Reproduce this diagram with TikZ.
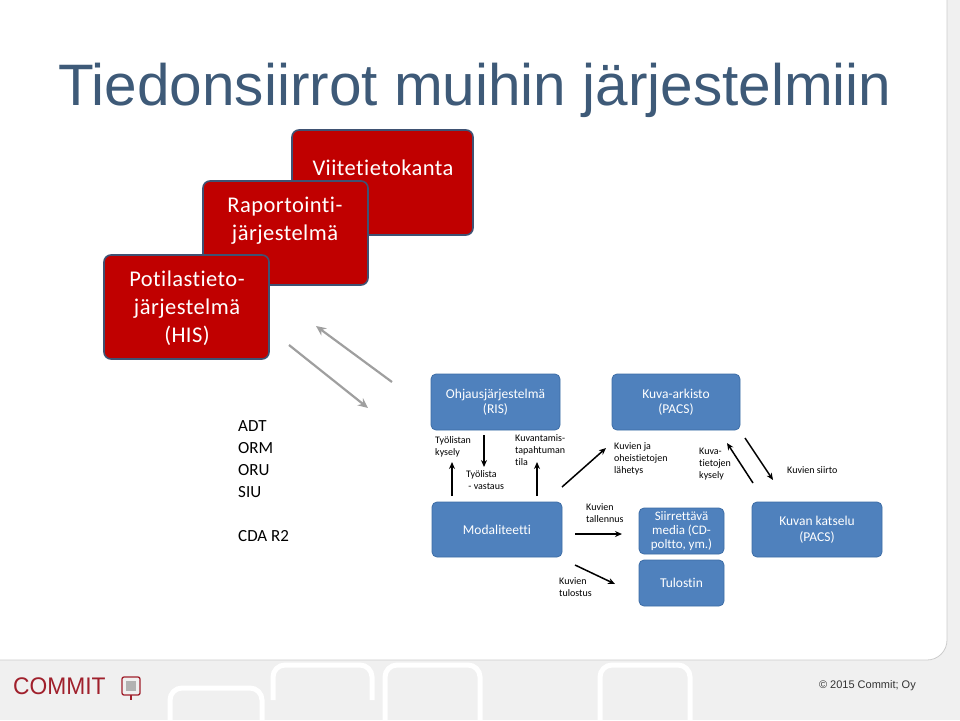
\documentclass[tikz,border=0pt]{standalone}
\usepackage{fontspec}
\setmainfont{Carlito}[RawFeature=-liga]
\newfontfamily\redfont{Carlito}[RawFeature=-liga,LetterSpace=2]
\newfontfamily\arial{Liberation Sans}
\usetikzlibrary{arrows.meta}
\definecolor{titleC}{HTML}{3E5A78}
\definecolor{redF}{HTML}{C00000}
\definecolor{redB}{HTML}{3F5273}
\definecolor{blueF}{HTML}{4F81BD}
\definecolor{blueB}{HTML}{3D6DA6}
\definecolor{logoC}{HTML}{A0202C}
\tikzset{x=1pt,y=-1pt,
 redbox/.style={draw=redB,line width=1.6pt,fill=redF,rounded corners=7pt},
 bluebox/.style={draw=blueB,line width=0.8pt,fill=blueF,rounded corners=5pt,text=white,font=\fontsize{13.5}{15.5}\selectfont,align=center},
 lbl/.style={font=\fontsize{10}{12}\selectfont,align=left,anchor=north west,inner sep=0pt},
 arr/.style={-{Stealth[length=7pt,width=6pt]},line width=1.5pt},
 garr/.style={-{Stealth[length=10pt,width=9pt]},line width=2.2pt,draw=gray!75},
 rtext/.style={text=white,font=\redfont\fontsize{22.5}{28}\selectfont,align=center}}
\begin{document}
\begin{tikzpicture}
\useasboundingbox (0,0) rectangle (960,720);
\fill[gray!12] (0,0) rectangle (960,720);
\fill[white] (0,0) -- (947,0) -- (947,640) arc[start angle=0,end angle=90,radius=20] -- (0,660) -- cycle;
\draw[gray!40,line width=0.8pt] (0,660) -- (927,660) arc[start angle=90,end angle=0,radius=20] -- (947,0);
\foreach \xa/\ya/\xb/\yb in {170/688/262/720,273/665/372/700,385/665/480/720,600/665/690/720}
  \draw[white,line width=5pt,rounded corners=12pt] (\xa,\yb) -- (\xa,\ya) -- (\xb,\ya) -- (\xb,\yb);
\node[text=titleC,font=\arial\fontsize{58.5}{60}\selectfont,anchor=west,inner sep=0pt] (title) at (58,90) {Tiedonsiirrot muihin järjestelmiin};
% red boxes
\draw[redbox] (292,130) rectangle (473,235);
\node[rtext] (viite) at (383,168) {Viitetietokanta};
\draw[redbox] (203,181) rectangle (368,285);
\node[rtext] (rap) at (285,221) {Raportointi-\\järjestelmä};
\draw[redbox] (104,255) rectangle (269,359);
\node[rtext] (pot) at (187,308) {Potilastieto-\\järjestelmä\\(HIS)};
\coordinate (g1a) at (392,382); \coordinate (g1b) at (316,326);
\coordinate (g2a) at (289,345); \coordinate (g2b) at (368,408);
\draw[garr] (g1a) -- (g1b);
\draw[garr] (g2a) -- (g2b);
\node[text=black,font=\fontsize{17}{22}\selectfont,align=left,anchor=north west,inner sep=0pt] (std) at (238,420) {ADT\\ORM\\ORU\\SIU\\[22pt]CDA R2};
% blue boxes
\node[bluebox,minimum width=129pt,minimum height=56pt] (ris) at (495.5,402) {Ohjausjärjestelmä\\(RIS)};
\node[bluebox,minimum width=128pt,minimum height=56pt] (pacs) at (676,402) {Kuva-arkisto\\(PACS)};
\node[bluebox,minimum width=130pt,minimum height=55pt] (mod) at (497,529.5) {Modaliteetti};
\node[bluebox,minimum width=85pt,minimum height=46pt,inner sep=0pt,font=\fontsize{13}{14}\selectfont] (siir) at (681.5,531) {Siirrettävä\\media (CD-\\poltto, ym.)};
\node[bluebox,minimum width=85pt,minimum height=46pt] (tul) at (681.5,583) {Tulostin};
\node[bluebox,minimum width=130pt,minimum height=55pt] (kat) at (817,529.5) {Kuvan katselu\\(PACS)};
% arrows
\coordinate (a1s) at (452,496); \coordinate (a1e) at (452,462);
\coordinate (a2s) at (484,435); \coordinate (a2e) at (484,467);
\coordinate (a3s) at (537,496); \coordinate (a3e) at (537,462);
\coordinate (a4s) at (562,487); \coordinate (a4e) at (606,448);
\coordinate (a5s) at (575,534); \coordinate (a5e) at (622,534);
\coordinate (a6s) at (575,565); \coordinate (a6e) at (615,584);
\coordinate (a7s) at (753,483); \coordinate (a7e) at (727,443);
\coordinate (a8s) at (745,438); \coordinate (a8e) at (773,480);
\foreach \p in {a1,a2,a3,a4,a5,a6,a7,a8} \draw[arr] (\p s) -- (\p e);
\node[lbl] (l1) at (435,436) {Työlistan\\kysely};
\node[lbl] (l2) at (466,470) {Työlista\\\ - vastaus};
\node[lbl] (l3) at (515,434) {Kuvantamis-\\tapahtuman\\tila};
\node[lbl] (l4) at (614,442) {Kuvien ja\\oheistietojen\\lähetys};
\node[lbl] (l5) at (586,503) {Kuvien\\tallennus};
\node[lbl] (l6) at (559,577) {Kuvien\\tulostus};
\node[lbl] (l7) at (699,448) {Kuva-\\tietojen\\kysely};
\node[lbl] (l8) at (787,466) {Kuvien siirto};
% footer
\node[text=logoC,font=\arial\fontsize{24}{25}\selectfont,anchor=west,inner sep=0pt,xscale=0.95] (logo) at (13,686) {COMMIT};
\draw[logoC,line width=1.3pt,rounded corners=2pt] (122,677) rectangle (140,695);
\fill[gray!60] (126,681) rectangle (136,691);
\draw[logoC,line width=1.3pt] (131,695) -- (131,700);
\node[font=\arial\fontsize{11}{12}\selectfont,text=black!80,anchor=east,inner sep=0pt] (copy) at (916,686) {© 2015 Commit; Oy};
\end{tikzpicture}
\end{document}
